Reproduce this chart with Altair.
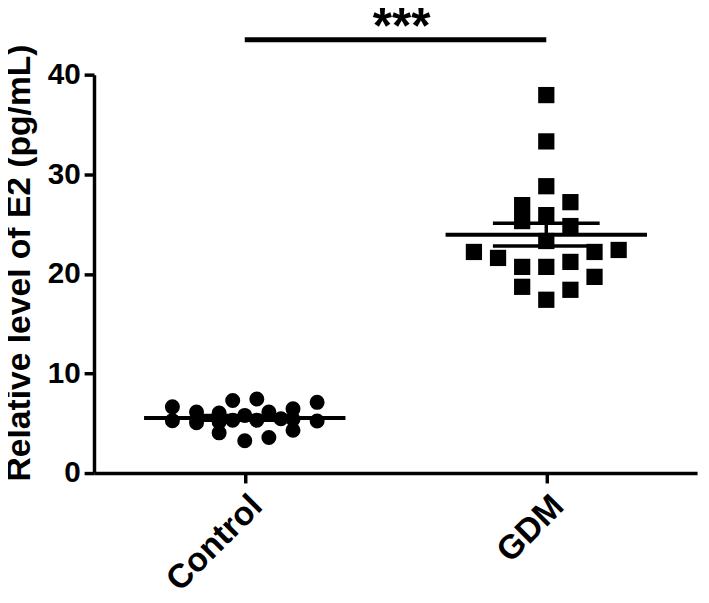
import altair as alt
import pandas as pd
import numpy as np

groups = ["Control", "GDM"]

# Control group (circles): values and horizontal scatter slot (fraction of category step)
control_values = [6.65, 5.26, 6.12, 5.06, 6.02, 5.13, 4.04, 7.28, 5.30, 5.79, 3.24,
                  7.44, 5.30, 6.12, 3.57, 5.46, 6.45, 5.40, 4.30, 7.10, 5.23]
control_jitter = [-0.24, -0.24, -0.16, -0.16, -0.085, -0.085, -0.085, -0.04, -0.04, 0.0, 0.0,
                  0.04, 0.04, 0.08, 0.08, 0.12, 0.16, 0.16, 0.16, 0.24, 0.24]

# GDM group (squares)
gdm_values = [37.95, 33.3, 28.8, 25.9, 23.3, 20.7, 17.4, 26.9, 25.3, 20.7, 18.7,
              27.2, 24.8, 21.2, 18.4, 21.6, 22.2, 19.7, 22.2, 22.4]
gdm_jitter = [0.0, 0.0, 0.0, 0.0, 0.0, 0.0, 0.0, -0.08, -0.08, -0.08, -0.08,
              0.08, 0.08, 0.08, 0.08, -0.16, 0.16, 0.16, -0.24, 0.24]

sig_label = "***"
sig_level = 43.5
star_level = 44.7

ctrl = pd.DataFrame({"xpos": [0 + j for j in control_jitter], "value": control_values})
gdm = pd.DataFrame({"xpos": [1 + j for j in gdm_jitter], "value": gdm_values})

rows = []
for i, vals in enumerate([control_values, gdm_values]):
    arr = np.array(vals)
    m = arr.mean()
    sem = arr.std(ddof=1) / np.sqrt(len(arr))
    rows.append({"xpos": i - 0.334, "xpos2": i + 0.334, "value": m, "value2": m, "w": 4})
    rows.append({"xpos": i - 0.177, "xpos2": i + 0.177, "value": m + sem, "value2": m + sem, "w": 3.5})
    rows.append({"xpos": i - 0.177, "xpos2": i + 0.177, "value": m - sem, "value2": m - sem, "w": 3.5})
    rows.append({"xpos": i, "xpos2": i, "value": m - sem, "value2": m + sem, "w": 3.5})
rules = pd.DataFrame(rows)

sig = pd.DataFrame({"xpos": [0], "xpos2": [1], "value": [sig_level]})
stars = pd.DataFrame({"xpos": [0.52], "value": [star_level], "label": [sig_label]})

x_enc = alt.X("xpos:Q",
              scale=alt.Scale(domain=[-0.5, 1.5], nice=False, zero=False),
              axis=alt.Axis(values=[0, 1],
                            labelExpr="datum.value == 0 ? 'Control' : 'GDM'",
                            title=None, labelAngle=-45, labelAlign="right",
                            labelBaseline="top", labelPadding=6,
                            labelFontSize=34))
y_enc = alt.Y("value:Q",
              scale=alt.Scale(domain=[0, 40], nice=False),
              axis=alt.Axis(values=[0, 10, 20, 30, 40],
                            title="Relative level of E2 (pg/mL)",
                            titleFontSize=34, labelFontSize=30,
                            labelPadding=4, titleX=-75, titleY=190,
                            titleBaseline="middle"))

pts_c = alt.Chart(ctrl).mark_point(shape="circle", filled=True, size=230,
                                   color="black", opacity=1).encode(x=x_enc, y=y_enc)
pts_g = alt.Chart(gdm).mark_point(shape="square", filled=True, size=270,
                                  color="black", opacity=1).encode(x=x_enc, y=y_enc)
rule_l = alt.Chart(rules).mark_rule(color="black").encode(
    x=x_enc, x2="xpos2:Q", y=y_enc, y2="value2:Q",
    strokeWidth=alt.StrokeWidth("w:Q", scale=None))
sig_l = alt.Chart(sig).mark_rule(color="black", strokeWidth=5).encode(
    x=x_enc, x2="xpos2:Q", y=y_enc)
star_l = alt.Chart(stars).mark_text(fontSize=50, fontWeight="bold", font="Liberation Sans",
                                    baseline="middle", color="black").encode(
    x=x_enc, y=y_enc, text="label:N")

chart = alt.layer(pts_c, pts_g, rule_l, sig_l, star_l).properties(
    width=610, height=403,
    autosize=alt.AutoSizeParams(type="none"),
    padding={"left": 87, "top": 64, "right": 4, "bottom": 128},
).configure_view(stroke=None).configure_axis(
    grid=False, domainWidth=3.5, domainColor="black", tickWidth=3.5, tickColor="black",
    tickSize=10, labelFont="Liberation Sans", labelFontWeight="bold", labelColor="black",
    titleFont="Liberation Sans", titleFontWeight="bold", titleColor="black"
)

chart.save("out.html", embed_options={"renderer": "svg", "actions": False})
